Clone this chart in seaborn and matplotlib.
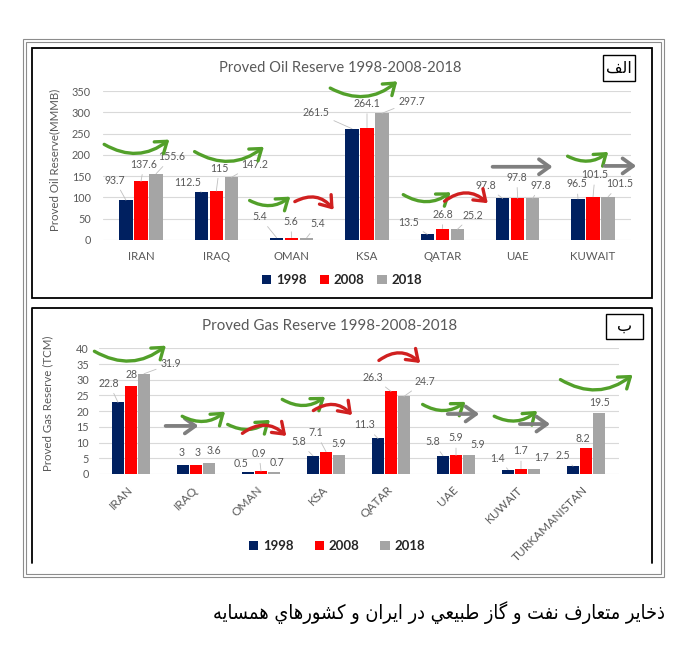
import numpy as np
import pandas as pd
import matplotlib
matplotlib.use("Agg")
import matplotlib.pyplot as plt
import seaborn as sns
from matplotlib.patches import Rectangle, Patch, FancyArrowPatch
from matplotlib.lines import Line2D

# ---------------- data ----------------
years = ["1998", "2008", "2018"]

oil_countries = ["IRAN", "IRAQ", "OMAN", "KSA", "QATAR", "UAE", "KUWAIT"]
oil_1998 = [93.7, 112.5, 5.4, 261.5, 13.5, 97.8, 96.5]
oil_2008 = [137.6, 115, 5.6, 264.1, 26.8, 97.8, 101.5]
oil_2018 = [155.6, 147.2, 5.4, 297.7, 25.2, 97.8, 101.5]
oil_ticks = [0, 50, 100, 150, 200, 250, 300, 350]

gas_countries = ["IRAN", "IRAQ", "OMAN", "KSA", "QATAR", "UAE", "KUWAIT", "TURKAMANISTAN"]
gas_1998 = [22.8, 3, 0.5, 5.8, 11.3, 5.8, 1.4, 2.5]
gas_2008 = [28, 3, 0.9, 7.1, 26.3, 5.9, 1.7, 8.2]
gas_2018 = [31.9, 3.6, 0.7, 5.9, 24.7, 5.9, 1.7, 19.5]
gas_ticks = [0, 5, 10, 15, 20, 25, 30, 35, 40]

oil_title = "Proved Oil Reserve 1998-2008-2018"
gas_title = "Proved Gas Reserve 1998-2008-2018"
oil_ylabel = "Proved Oil Reserve(MMMB)"
gas_ylabel = "Proved Gas Reserve (TCM)"
tag_oil = "الف"
tag_gas = "ب"
caption = "ذخاير متعارف نفت و گاز طبيعي در ايران و كشورهاي همسايه"

# ---------------- annotation layout (offsets in pixels) ----------------
oil_lbl_off = [
    [(-11, 20), (3, 17), (16, 17)],
    [(-14, 10), (3, 23), (23, 13)],
    [(-17, 21), (-1, 16), (11, 14)],
    [(-36, 16), (0, 24), (30, 12)],
    [(-19, 12), (1, 14), (15, 14)],
    [(-17, 13), (-1, 21), (8, 13)],
    [(-1, 15), (2, 22), (12, 13)],
]
gas_lbl_off = [
    [(-9, 19), (1, 12), (27, 10)],
    [(-1.5, 12), (1.5, 12), (4.5, 12)],
    [(-7, 9), (-2, 18), (3, 9)],
    [(-14, 14), (-10, 19), (0, 11.5)],
    [(-13, 13.5), (-18, 14), (21, 15)],
    [(-10, 14), (0, 17.5), (9, 10.5)],
    [(-10, 11.6), (0, 17.7), (8, 10.7)],
    [(-10, 11), (-3, 10), (1, 10.7)],
]
# trend arrows in data coordinates: x0, y0, x1, y1, kind
oil_arrows = [
    (-0.52, 228, 0.405, 240, "g"),
    (0.68, 211, 1.66, 223, "g"),
    (1.41, 96, 2.01, 106, "g"),
    (2.01, 87, 2.58, 66, "r"),
    (2.48, 360, 3.43, 377, "g"),
    (3.45, 110, 4.14, 116, "g"),
    (4.0, 87, 4.63, 82, "r"),
    (4.63, 172, 5.50, 172, "k"),
    (5.63, 200, 6.23, 211, "g"),
    (6.12, 174, 6.61, 174, "k"),
]
gas_arrows = [
    (-0.6, 39.5, 0.57, 41.4, "g"),
    (0.49, 15.3, 1.08, 15.3, "k"),
    (0.75, 18.8, 1.48, 20.4, "g"),
    (1.45, 16.2, 2.17, 17.8, "g"),
    (1.68, 12.4, 2.42, 11.5, "r"),
    (2.29, 24.2, 3.02, 25.1, "g"),
    (2.77, 19.7, 3.43, 18.1, "r"),
    (3.78, 35.6, 4.48, 34.7, "r"),
    (4.45, 22.6, 5.18, 23.5, "g"),
    (4.83, 19.1, 5.40, 19.1, "k"),
    (5.55, 18.8, 6.28, 20.7, "g"),
    (5.94, 15.9, 6.49, 15.9, "k"),
    (6.57, 30.5, 7.75, 32.1, "g"),
]

bar_colors = ["#002060", "#FF0000", "#A5A5A5"]
arrow_style = {"g": ("#52A02A", 0.36, 2.4), "r": ("#D02020", -0.45, 2.4), "k": ("#7F7F7F", 0.0, 2.7)}
TXT = "#595959"

# ---------------- simple Arabic shaping (presentation forms) ----------------
FORMS = {
    "\u0627": ("\uFE8D", "\uFE8E", None, None),
    "\u0628": ("\uFE8F", "\uFE90", "\uFE91", "\uFE92"),
    "\u062A": ("\uFE95", "\uFE96", "\uFE97", "\uFE98"),
    "\u062E": ("\uFEA5", "\uFEA6", "\uFEA7", "\uFEA8"),
    "\u062F": ("\uFEA9", "\uFEAA", None, None),
    "\u0630": ("\uFEAB", "\uFEAC", None, None),
    "\u0631": ("\uFEAD", "\uFEAE", None, None),
    "\u0632": ("\uFEAF", "\uFEB0", None, None),
    "\u0633": ("\uFEB1", "\uFEB2", "\uFEB3", "\uFEB4"),
    "\u0634": ("\uFEB5", "\uFEB6", "\uFEB7", "\uFEB8"),
    "\u0637": ("\uFEC1", "\uFEC2", "\uFEC3", "\uFEC4"),
    "\u0639": ("\uFEC9", "\uFECA", "\uFECB", "\uFECC"),
    "\u0641": ("\uFED1", "\uFED2", "\uFED3", "\uFED4"),
    "\u0643": ("\uFED9", "\uFEDA", "\uFEDB", "\uFEDC"),
    "\u0644": ("\uFEDD", "\uFEDE", "\uFEDF", "\uFEE0"),
    "\u0645": ("\uFEE1", "\uFEE2", "\uFEE3", "\uFEE4"),
    "\u0646": ("\uFEE5", "\uFEE6", "\uFEE7", "\uFEE8"),
    "\u0647": ("\uFEE9", "\uFEEA", "\uFEEB", "\uFEEC"),
    "\u0648": ("\uFEED", "\uFEEE", None, None),
    "\u064A": ("\uFEF1", "\uFEF2", "\uFEF3", "\uFEF4"),
    "\u06AF": ("\uFB92", "\uFB93", "\uFB94", "\uFB95"),
}


def shape_rtl(s):
    out = []
    for i, ch in enumerate(s):
        if ch not in FORMS:
            out.append(ch)
            continue
        prev = s[i - 1] if i > 0 else ""
        nxt = s[i + 1] if i + 1 < len(s) else ""
        pj = prev in FORMS and FORMS[prev][2] is not None
        nj = nxt in FORMS
        iso, fin, ini, med = FORMS[ch]
        can_left = ini is not None
        if pj and nj and can_left:
            out.append(med)
        elif pj:
            out.append(fin)
        elif nj and can_left:
            out.append(ini)
        else:
            out.append(iso)
    return "".join(out)[::-1]


# ---------------- style ----------------
sns.set_style("white")
plt.rcParams["font.family"] = ["Lato", "DejaVu Sans"]

W, H = 685, 654
fig = plt.figure(figsize=(W / 100, H / 100), dpi=100)


def fx(px):
    return px / W


def fy(py):
    return 1 - py / H


def rect_px(x0, y0, x1, y1, **kw):
    fig.patches.append(Rectangle((fx(x0), fy(y1)), fx(x1) - fx(x0), fy(y0) - fy(y1),
                                 transform=fig.transFigure, fill=False, **kw))


# frames
rect_px(22.5, 39, 663.5, 577, ec="#8C8C8C", lw=0.8)
rect_px(25.5, 42, 660.5, 574, ec="#8C8C8C", lw=0.8)
rect_px(32, 48, 652, 298, ec="black", lw=1.3)
fig.lines.append(Line2D([fx(32), fx(32), fx(652), fx(652)], [fy(563), fy(308), fy(308), fy(563)],
                        transform=fig.transFigure, color="black", lw=1.3))


def make_panel(rect, countries, v98, v08, v18, ticks, ylabel, lbl_off, arrows,
               rotate, ylab_coords, ytick_pad):
    ax = fig.add_axes(rect)
    df = pd.DataFrame({
        "country": countries * 3,
        "year": [y for y in years for _ in countries],
        "value": list(v98) + list(v08) + list(v18),
    })
    sns.barplot(data=df, x="country", y="value", hue="year", hue_order=years,
                order=countries, palette=bar_colors, width=0.6, gap=0.12,
                saturation=1, edgecolor="none", legend=False, ax=ax, zorder=3)
    ax.set_xlim(-0.5, len(countries) - 0.5)
    ax.set_ylim(0, ticks[-1])
    ax.set_yticks(ticks)
    ax.set_yticklabels([str(t) for t in ticks], color=TXT, fontsize=7.8)
    ax.grid(axis="y", color="#D9D9D9", lw=0.8, zorder=0)
    ax.set_axisbelow(True)
    for sp in ax.spines.values():
        sp.set_visible(False)
    ax.tick_params(axis="both", length=0)
    ax.tick_params(axis="y", pad=ytick_pad)
    ax.set_xlabel("")
    ax.set_ylabel(ylabel, color=TXT, fontsize=8.3)
    ax.yaxis.set_label_coords(*ylab_coords)
    ax.set_xticks(range(len(countries)))
    if rotate:
        ax.set_xticklabels(countries, rotation=45, ha="right", va="center",
                           rotation_mode="anchor", color=TXT, fontsize=8.6)
        ax.tick_params(axis="x", pad=10)
    else:
        ax.set_xticklabels(countries, color=TXT, fontsize=8.2)
        ax.tick_params(axis="x", pad=8)

    # value labels
    for j, cont in enumerate(ax.containers):
        for i, bar in enumerate(cont):
            xc = bar.get_x() + bar.get_width() / 2
            top = bar.get_height()
            dx, dy = lbl_off[i][j]
            val = df["value"].iloc[j * len(countries) + i]
            far = (dx * dx + dy * dy) ** 0.5 > 14
            ax.annotate(f"{val:g}", xy=(xc, top), xytext=(dx, dy),
                        textcoords="offset pixels", ha="center", va="center",
                        fontsize=7.6, color=TXT, zorder=5, annotation_clip=False,
                        arrowprops=dict(arrowstyle="-", color="#BFBFBF", lw=0.6,
                                        shrinkA=1, shrinkB=0) if far else None)

    # trend arrows
    for x0, y0, x1, y1, k in arrows:
        col, rad, lw = arrow_style[k]
        ar = FancyArrowPatch((x0, y0), (x1, y1),
                             connectionstyle=f"arc3,rad={rad}",
                             arrowstyle="->,head_length=0.5,head_width=0.36",
                             mutation_scale=15, color=col, lw=lw,
                             clip_on=False, zorder=6)
        ax.add_patch(ar)
    return ax


# oil panel
ax1 = make_panel([fx(103.3), fy(240), fx(630.7) - fx(103.3), fy(91) - fy(240)],
                 oil_countries, oil_1998, oil_2008, oil_2018, oil_ticks, oil_ylabel,
                 oil_lbl_off, oil_arrows, False, (-0.082, 0.537), 9)
# gas panel
ax2 = make_panel([fx(98.5), fy(474), fx(618.5) - fx(98.5), fy(348.3) - fy(474)],
                 gas_countries, gas_1998, gas_2008, gas_2018, gas_ticks, gas_ylabel,
                 gas_lbl_off, gas_arrows, True, (-0.0875, 0.565), 7)

# titles
fig.text(fx(340), fy(68), oil_title, ha="center", va="center", fontsize=10.6, color=TXT)
fig.text(fx(330), fy(325.5), gas_title, ha="center", va="center", fontsize=10.9, color=TXT)

# legends
handles = [Patch(facecolor=c, edgecolor="none") for c in bar_colors]
fig.legend(handles, years, loc="center", bbox_to_anchor=(fx(342), fy(280)), ncol=3,
           frameon=False, handlelength=0.7, handleheight=0.7, handletextpad=0.35,
           columnspacing=1.0, prop={"size": 9.5, "weight": "bold"}, labelcolor="#262626")
fig.legend(handles, years, loc="center", bbox_to_anchor=(fx(337), fy(546)), ncol=3,
           frameon=False, handlelength=0.7, handleheight=0.7, handletextpad=0.35,
           columnspacing=1.6, prop={"size": 9.5, "weight": "bold"}, labelcolor="#262626")

# tag boxes
rect_px(603, 55, 635, 81, ec="black", lw=1.0)
fig.text(fx(619), fy(68), shape_rtl(tag_oil), ha="center", va="center",
         fontsize=11.5, family=["DejaVu Sans"], color="black")
rect_px(606, 314, 643, 339, ec="black", lw=1.0)
fig.text(fx(624.5), fy(326.5), shape_rtl(tag_gas), ha="center", va="center",
         fontsize=11.5, family=["DejaVu Sans"], color="black")

# caption
fig.text(fx(665), fy(613), shape_rtl(caption), ha="right", va="center",
         fontsize=14.2, fontstretch="condensed", family=["DejaVu Sans"], color="black")

fig.savefig("out.png", dpi=100)
